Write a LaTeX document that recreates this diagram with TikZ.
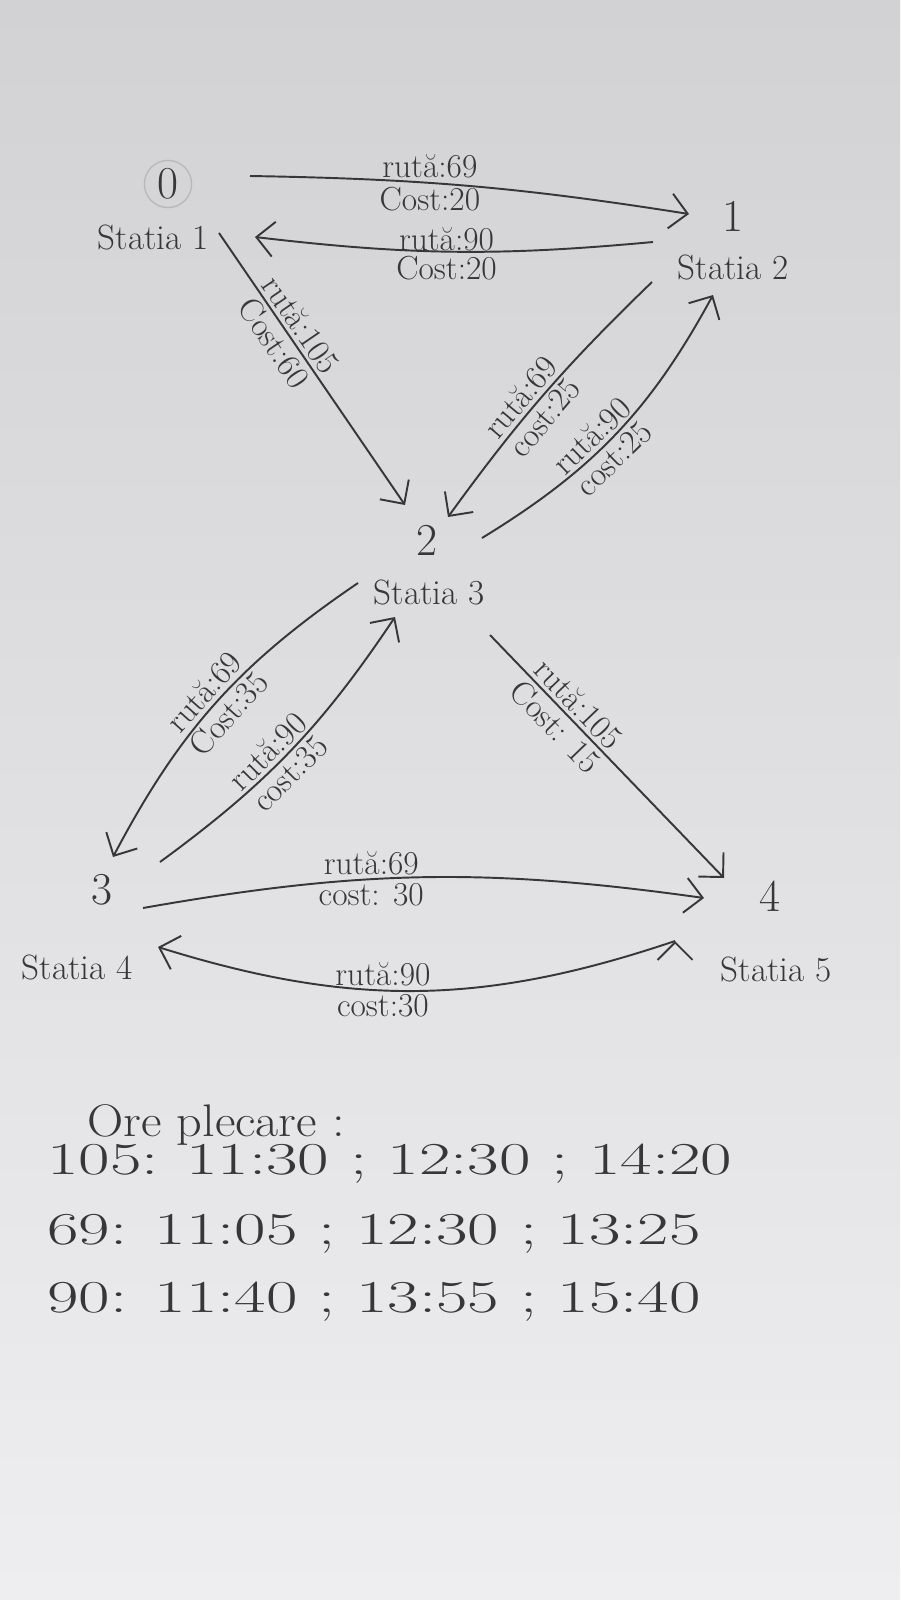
\documentclass[tikz,border=0pt]{standalone}
\usepackage{fontspec}
\usetikzlibrary{arrows.meta}
\usetikzlibrary{positioning}
\usetikzlibrary{calc}

\definecolor{ink}{RGB}{55,55,58}
\definecolor{paperTop}{RGB}{210,210,212}
\definecolor{paperBot}{RGB}{238,238,240}

\newcommand{\wide}[2][1.5]{\scalebox{#1}[1]{#2}}

\tikzset{
  stop/.style={font=\fontsize{26}{28}\selectfont, text=ink, inner sep=2pt},
  station/.style={font=\fontsize{20}{22}\selectfont, text=ink, inner sep=1pt},
  lbl/.style={font=\fontsize{19}{21}\selectfont, text=ink, inner sep=2pt},
  route/.style={draw=ink, line width=1.1pt, -{Straight Barb[length=3.5mm,width=7mm]}},
  times/.style={font=\fontsize{26}{28}\selectfont, text=ink, anchor=west, inner sep=0pt}
}

\begin{document}
\begin{tikzpicture}[x=0.02cm,y=-0.02cm]
  \shade[top color=paperTop,bottom color=paperBot] (0,0) rectangle (900,1600);
  \useasboundingbox (0,0) rectangle (900,1600);

  % statii
  \node[stop, circle, draw=gray!55, line width=0.8pt, minimum size=0.9cm] (n0) at (168,184) {0};
  \node[stop] (n1) at (733,216) {1};
  \node[stop] (n2) at (427,540) {2};
  \node[stop] (n3) at (102,890) {3};
  \node[stop] (n4) at (770,896) {4};
  \node[station] (s0) at (153,237) {Statia 1};
  \node[station] (s1) at (733,267) {Statia 2};
  \node[station] (s2) at (429,592) {Statia 3};
  \node[station] (s3) at (77,967)  {Statia 4};
  \node[station] (s4) at (776,969) {Statia 5};

  % rute
  \path[route]
    ($(n0)+(82,-8)$) edge[bend left=4] node[lbl,above,pos=0.4] {rută:69} node[lbl,below,pos=0.4] {Cost:20} ($(n1)+(-44,-2)$)
    ($(n1)+(-80,26)$) edge[bend left=6] node[lbl,above,pos=0.52,inner sep=0pt] {rută:90} node[lbl,below,pos=0.52] {Cost:20} ($(s0)+(102,0)$)
    ($(s0)+(66,-4)$) edge node[lbl,sloped,above,pos=0.37] {rută:105} node[lbl,sloped,below,pos=0.37] {Cost:60} ($(n2)+(-22,-35)$)
    ($(s1)+(-81,15)$) edge[bend right=5] node[lbl,sloped,above,pos=0.56] {rută:69} node[lbl,sloped,below,pos=0.56] {cost:25} ($(n2)+(21,-23)$)
    ($(n2)+(55,-2)$) edge[bend right=15] node[lbl,sloped,above,pos=0.44] {rută:90} node[lbl,sloped,below,pos=0.44] {cost:25} ($(s1)+(-20,28)$)
    ($(s2)+(-71,-9)$) edge[bend right=14] node[lbl,sloped,above,pos=0.5] {rută:69} node[lbl,sloped,below,pos=0.5] {Cost:35} ($(n3)+(11,-33)$)
    ($(n3)+(58,-28)$) edge[bend right=10] node[lbl,sloped,above,pos=0.45] {rută:90} node[lbl,sloped,below,pos=0.45] {cost:35} ($(s2)+(-34,25)$)
    ($(s2)+(61,43)$) edge node[lbl,sloped,above,pos=0.33] {rută:105} node[lbl,sloped,below,pos=0.33] {Cost: 15} ($(n4)+(-46,-18)$)
    ($(n3)+(41,18)$) edge[bend left=9] node[lbl,above,pos=0.4] {rută:69} node[lbl,below,pos=0.4] {cost: 30} ($(n4)+(-66,2)$)
    ($(n4)+(-95,45)$) edge[bend left=18] node[lbl,above,pos=0.57] {rută:90} node[lbl,below,pos=0.57] {cost:30} ($(s3)+(81,-20)$);

  % ore
  \node[times] (h0) at (87,1125) {\wide[1.1]{Ore plecare :}};
  \node[times] (h1) at (47,1164) {\wide{105: 11:30 ; 12:30 ; 14:20}};
  \node[times] (h2) at (47,1234) {\wide{69: 11:05 ; 12:30 ; 13:25}};
  \node[times] (h3) at (47,1302) {\wide{90: 11:40 ; 13:55 ; 15:40}};
\end{tikzpicture}
\end{document}
